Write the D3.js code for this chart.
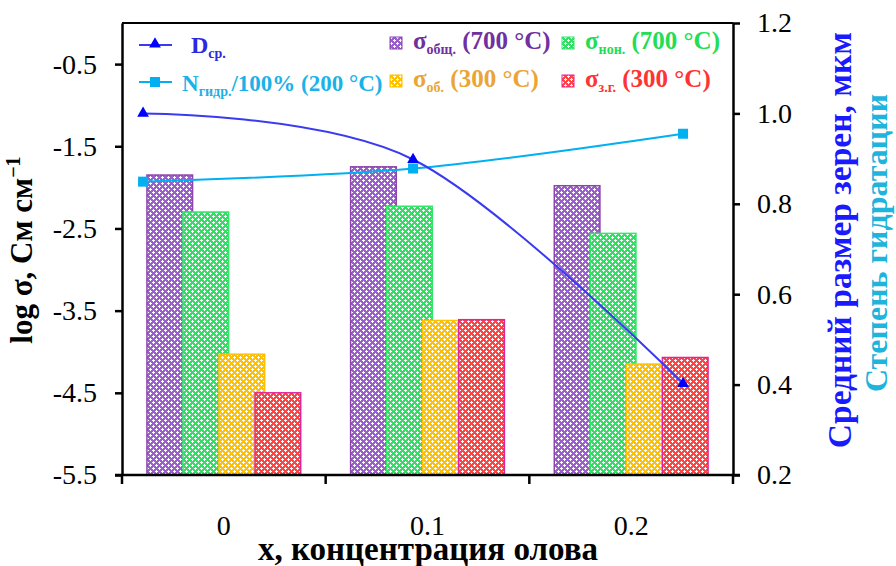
<!DOCTYPE html>
<html>
<head>
<meta charset="utf-8">
<script src="https://cdn.jsdelivr.net/npm/d3@7"></script>
<style>
  body{margin:0;background:#fff;}
</style>
</head>
<body>
<div id="grafico"></div>
<script>
// categorias e valores
const categorias = ["0", "0.1", "0.2"];
const sigmaObsh700 = [-1.85, -1.75, -1.98];   // σ общ. (700 °C)
const sigmaNon700  = [-2.30, -2.23, -2.56];   // σ нон. (700 °C)
const sigmaOb300   = [-4.03, -3.62, -4.15];   // σ об. (300 °C)
const sigmaZg300   = [-4.50, -3.61, -4.07];   // σ з.г. (300 °C)

const xLinhas = [0, 0.1, 0.2];                 // concentração (eixo x secundário)
const dSr = [1.0, 0.898, 0.402];               // средний размер зерен
const nGidr = [0.849, 0.878, 0.955];           // N гидр./100%

const ticksEsq = [-5.5, -4.5, -3.5, -2.5, -1.5, -0.5];
const ticksDir = [0.2, 0.4, 0.6, 0.8, 1.0, 1.2];

const fonte = 'Liberation Serif';
const largura = 896, altura = 566;
const mg = {top: 23, left: 122, right: 163, bottom: 91};
const W = largura - mg.left - mg.right;
const H = altura - mg.top - mg.bottom;

const series = [
  {vals: sigmaObsh700, cor: "#9a5fcc", borda: "#8e44ad", id: "pRoxo"},
  {vals: sigmaNon700,  cor: "#33dd66", borda: "#2ee866", id: "pVerde"},
  {vals: sigmaOb300,   cor: "#ffc000", borda: "#ffc000", id: "pAmarelo"},
  {vals: sigmaZg300,   cor: "#ff4444", borda: "#e0259a", id: "pVermelho"}
];

const svg = d3.select('#grafico').append('svg')
  .attr('width', largura).attr('height', altura)
  .style('display', 'block');

// padrões (quadradinhos com cruzinhas brancas)
const defs = svg.append('defs');
series.forEach(s => {
  const p = defs.append('pattern').attr('id', s.id)
    .attr('width', 6).attr('height', 6).attr('patternUnits', 'userSpaceOnUse');
  p.append('rect').attr('width', 6).attr('height', 6).attr('fill', s.cor);
  [[1,0,1,3],[0,1,3,1],[4,3,1,3],[3,4,3,1]].forEach(r => {
    p.append('rect').attr('x', r[0]).attr('y', r[1]).attr('width', r[2]).attr('height', r[3]).attr('fill', '#fff');
  });
});

const g = svg.append('g').attr('transform', `translate(${mg.left},${mg.top})`);

const x = d3.scaleBand().domain(categorias).range([0, W]).padding(0);
const xLin = d3.scaleLinear().domain([-0.0078, 0.2185]).range([0, W]);
const yEsq = d3.scaleLinear().domain([-5.5, 0]).range([H, 0]);
const yDir = d3.scaleLinear().domain([0.2, 1.2]).range([H, 0]);

// barras com sobreposição
const larguraGrupo = x.bandwidth() * 0.755;
const sobrep = 0.21;
const larguraBarra = larguraGrupo / (1 + 3 * (1 - sobrep));
const passo = larguraBarra * (1 - sobrep);

series.forEach((s, i) => {
  g.selectAll('.b' + i).data(s.vals).enter().append('rect')
    .attr('x', (d, j) => x(categorias[j]) + (x.bandwidth() - larguraGrupo) / 2 + i * passo)
    .attr('y', d => yEsq(d))
    .attr('width', larguraBarra)
    .attr('height', d => H - yEsq(d))
    .attr('fill', `url(#${s.id})`)
    .attr('stroke', s.borda)
    .attr('stroke-width', 1.5);
});

// eixos
const fmt = d => d3.format('.1f')(d).replace('\u2212', '-');
const eixoEsq = g.append('g').call(d3.axisLeft(yEsq).tickValues(ticksEsq).tickFormat(fmt).tickSize(7).tickSizeOuter(0).tickPadding(18));
const eixoDir = g.append('g').attr('transform', `translate(${W},0)`)
  .call(d3.axisRight(yDir).tickValues(ticksDir).tickFormat(d3.format('.1f')).tickSize(7).tickSizeOuter(0).tickPadding(17));
const eixoX = g.append('g').attr('transform', `translate(0,${H})`)
  .call(d3.axisBottom(x).tickSize(0).tickSizeOuter(0).tickPadding(40));

[eixoEsq, eixoDir, eixoX].forEach(e => {
  e.attr('font-family', null).attr('font-size', null);
  e.selectAll('path').attr('stroke', '#000').attr('stroke-width', 2.5);
  e.selectAll('line').attr('stroke', '#000').attr('stroke-width', 2.5);
  e.selectAll('text').attr('fill', '#000').attr('font-family', fonte).attr('font-size', 28);
});
eixoX.select('path').attr('d', `M-7,0H${W + 7}`);

// marcas do eixo x entre categorias
const limites = categorias.map(c => x(c)).concat([W]);
g.selectAll('.tx').data(limites).enter().append('line')
  .attr('x1', d => d).attr('x2', d => d).attr('y1', H).attr('y2', H + 9)
  .attr('stroke', '#000').attr('stroke-width', 2.5);

// linha de cima da moldura
g.append('line').attr('x1', 0).attr('x2', W).attr('y1', 0).attr('y2', 0)
  .attr('stroke', '#000').attr('stroke-width', 2);

// linhas suavizadas
const linhaD = d3.line().x((d, i) => xLin(xLinhas[i])).y(d => yDir(d)).curve(d3.curveCardinal.tension(0));
g.append('path').attr('d', linhaD(nGidr)).attr('fill', 'none').attr('stroke', '#00b0f0').attr('stroke-width', 2);
g.append('path').attr('d', linhaD(dSr)).attr('fill', 'none').attr('stroke', '#3a3af0').attr('stroke-width', 2);

g.selectAll('.mq').data(nGidr).enter().append('path')
  .attr('transform', (d, i) => `translate(${xLin(xLinhas[i])},${yDir(d)})`)
  .attr('d', d3.symbol(d3.symbolSquare).size(100)).attr('fill', '#00b0f0');
g.selectAll('.mt').data(dSr).enter().append('path')
  .attr('transform', (d, i) => `translate(${xLin(xLinhas[i])},${yDir(d)})`)
  .attr('d', d3.symbol(d3.symbolTriangle).size(60)).attr('fill', '#0000ff');

// legenda
const leg = svg.append('g');
const texto = (sel, tam) => sel.append('text').attr('font-family', fonte).attr('font-weight', 'bold').attr('font-size', tam);

leg.append('line').attr('x1', 139).attr('x2', 172).attr('y1', 45).attr('y2', 45).attr('stroke', '#3a3af0').attr('stroke-width', 2);
leg.append('path').attr('transform', 'translate(155,44)').attr('d', d3.symbol(d3.symbolTriangle).size(60)).attr('fill', '#0000ff');
const tD = texto(leg, 24).attr('x', 191).attr('y', 53).attr('fill', '#2a2ae0');
tD.append('tspan').text('D');
tD.append('tspan').attr('font-size', 14).attr('dy', 5).text('ср.');

leg.append('line').attr('x1', 139).attr('x2', 172).attr('y1', 82).attr('y2', 82).attr('stroke', '#00b0f0').attr('stroke-width', 2);
leg.append('path').attr('transform', 'translate(155,82)').attr('d', d3.symbol(d3.symbolSquare).size(100)).attr('fill', '#00b0f0');
const tN = texto(leg, 23).attr('x', 182).attr('y', 91).attr('fill', '#1ab2e8');
tN.append('tspan').text('N');
tN.append('tspan').attr('font-size', 14).attr('dy', 5).text('гидр.');
tN.append('tspan').attr('dy', -5).text('/100% (200 °C)');

const itens = [
  {s: 0, x: 390, y: 37, sub: 'общ.', resto: ' (700 °C)', cor: '#7030a0'},
  {s: 1, x: 562, y: 37, sub: 'нон.', resto: ' (700 °C)', cor: '#22dd55'},
  {s: 2, x: 390, y: 75, sub: 'об.', resto: ' (300 °C)', cor: '#eaa535'},
  {s: 3, x: 562, y: 75, sub: 'з.г.', resto: ' (300 °C)', cor: '#ff3333'}
];
itens.forEach(it => {
  leg.append('rect').attr('x', it.x).attr('y', it.y).attr('width', 12).attr('height', 12)
    .attr('fill', `url(#${series[it.s].id})`).attr('stroke', series[it.s].borda).attr('stroke-width', 1);
  const t = texto(leg, 25).attr('x', it.x + 23).attr('y', it.y + 12).attr('fill', it.cor);
  t.append('tspan').text('σ');
  t.append('tspan').attr('font-size', 14).attr('dy', 5).text(it.sub);
  t.append('tspan').attr('dy', -5).text(it.resto);
});

// títulos dos eixos
const tEsq = svg.append('text').attr('transform', 'translate(32,250) rotate(-90)')
  .attr('font-family', fonte).attr('text-anchor', 'middle').attr('font-weight', 'bold').attr('font-size', 31).attr('fill', '#000');
tEsq.append('tspan').text('log σ, См см');
tEsq.append('tspan').attr('font-size', 20).attr('dy', -12).text('−1');

svg.append('text').attr('transform', 'translate(851,240) rotate(-90)')
  .attr('font-family', fonte).attr('text-anchor', 'middle').attr('font-weight', 'bold').attr('font-size', 33.5).attr('fill', '#1a1aff')
  .text('Средний размер зерен, мкм');
svg.append('text').attr('transform', 'translate(887,243) rotate(-90)')
  .attr('font-family', fonte).attr('text-anchor', 'middle').attr('font-weight', 'bold').attr('font-size', 32).attr('fill', '#1fb4dc')
  .text('Степень гидратации');

svg.append('text').attr('x', 428).attr('y', 560).attr('text-anchor', 'middle')
  .attr('font-family', fonte).attr('font-weight', 'bold').attr('font-size', 33).attr('fill', '#000')
  .text('х, концентрация олова');
</script>
</body>
</html>
